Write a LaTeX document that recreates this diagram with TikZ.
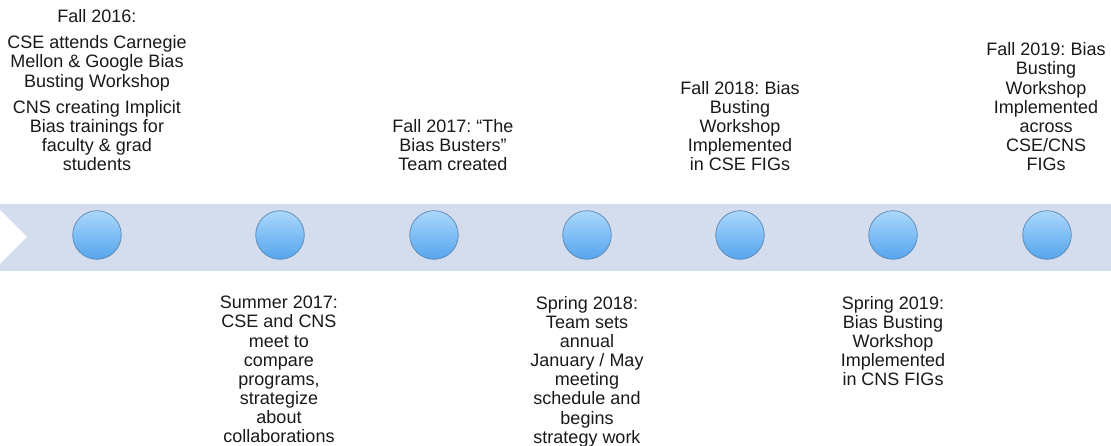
\documentclass[tikz,border=0pt]{standalone}
\usepackage{fontspec}
\setmainfont{Liberation Sans}
\frenchspacing
\newcommand{\evfont}{\fontsize{18}{19.15}\selectfont}
\begin{document}
\begin{tikzpicture}[x=1pt,y=-1pt,
  evtop/.style={align=center,inner sep=0pt,anchor=south,font=\evfont,text=black!90},
  evbot/.style={align=center,inner sep=0pt,anchor=north,font=\evfont,text=black!90},
  dot/.style={circle,minimum size=48.6pt,inner sep=0pt,draw=dotedge,line width=0.7pt,
    top color=dotlight,bottom color=dotdark}]
  \definecolor{bandc}{HTML}{D3DDEE}
  \definecolor{dotlight}{HTML}{ABD8FC}
  \definecolor{dotdark}{HTML}{55A5EE}
  \definecolor{dotedge}{HTML}{5A86B0}
  \useasboundingbox (0,0) rectangle (1111,446);
  % band with notch
  \fill [bandc] (0,204) rectangle (1111,271);
  \fill [white] (0,210) -- (27,237) -- (0,264) -- cycle;
  % dots
  \node [dot] (c1) at (97,235) {};
  \node [dot] (c2) at (280,235) {};
  \node [dot] (c3) at (434,235) {};
  \node [dot] (c4) at (587,235) {};
  \node [dot] (c5) at (740,235) {};
  \node [dot] (c6) at (893,235) {};
  \node [dot] (c7) at (1047,235) {};
  % events above
  \node [evtop] (t1) at (97,171) {Fall 2016:\\[7pt] CSE attends Carnegie\\ Mellon \& Google Bias\\ Busting Workshop\\[7pt]
    CNS creating Implicit\\ Bias trainings for\\ faculty \& grad\\ students};
  \node [evtop] (t3) at (453,171) {Fall 2017: “The\\ Bias Busters”\\ Team created};
  \node [evtop] (t5) at (740,171) {Fall 2018: Bias\\ Busting\\ Workshop\\ Implemented\\ in CSE FIGs};
  \node [evtop] (t7) at (1046,171) {Fall 2019: Bias\\ Busting\\ Workshop\\ Implemented\\ across\\ CSE/CNS\\ FIGs};
  % events below
  \node [evbot] (t2) at (279,296) {Summer 2017:\\ CSE and CNS\\ meet to\\ compare\\ programs,\\ strategize\\ about\\ collaborations};
  \node [evbot] (t4) at (587,296) {Spring 2018:\\ Team sets\\ annual\\ January / May\\ meeting\\ schedule and\\ begins\\ strategy work};
  \node [evbot] (t6) at (893,296) {Spring 2019:\\ Bias Busting\\ Workshop\\ Implemented\\ in CNS FIGs};
\end{tikzpicture}
\end{document}
